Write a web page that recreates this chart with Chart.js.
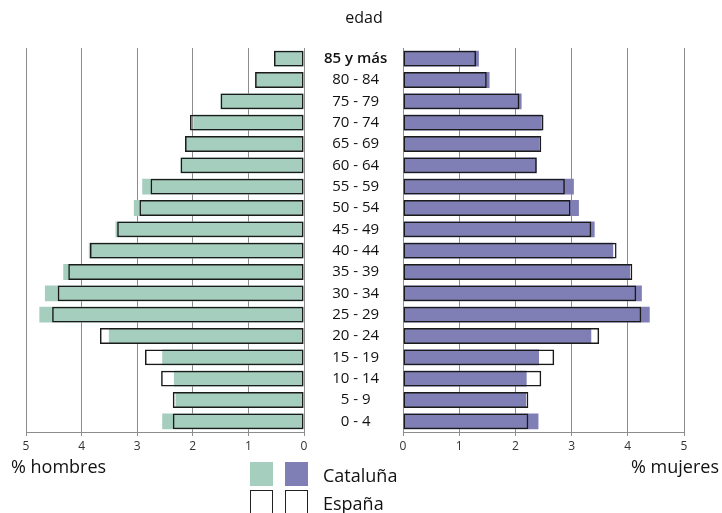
<!DOCTYPE html>
<html>
<head>
<meta charset="utf-8">
<script src="https://cdn.jsdelivr.net/npm/chart.js@4"></script>
<style>
  body { margin: 0; background: #fff; font-family: "Open Sans", sans-serif; color: #111; }
  #wrap { position: relative; width: 722px; height: 513px; overflow: hidden; }
  #menBox { position: absolute; left: 0; top: 0; width: 403px; height: 460px; }
  #womenBox { position: absolute; left: 393px; top: 0; width: 329px; height: 460px; }
  .txt { position: absolute; white-space: nowrap; }
  .sw { position: absolute; width: 23px; height: 24px; box-sizing: border-box; }
</style>
</head>
<body>
<div id="wrap">
  <div id="menBox"><canvas id="menChart"></canvas></div>
  <div id="womenBox"><canvas id="womenChart"></canvas></div>

  <div class="txt" style="left:0;width:728px;text-align:center;top:6px;font-size:16px;">edad</div>
  <div class="txt" style="left:11px;top:454px;font-size:18px;">% hombres</div>
  <div class="txt" style="right:3px;top:454px;font-size:18px;">% mujeres</div>

  <div class="sw" style="left:250px;top:462px;background:#a6cebf;"></div>
  <div class="sw" style="left:285px;top:462px;background:#7f7fb5;"></div>
  <div class="sw" style="left:250px;top:490px;border:1px solid #222;"></div>
  <div class="sw" style="left:285px;top:490px;border:1px solid #222;"></div>
  <div class="txt" style="left:323px;top:463px;font-size:18px;">Cataluña</div>
  <div class="txt" style="left:323px;top:491px;font-size:18px;">España</div>
</div>

<script>
// age groups, top to bottom
const ageGroups = ['85 y más', '80 - 84', '75 - 79', '70 - 74', '65 - 69', '60 - 64',
    '55 - 59', '50 - 54', '45 - 49', '40 - 44', '35 - 39', '30 - 34',
    '25 - 29', '20 - 24', '15 - 19', '10 - 14', '5 - 9', '0 - 4'];

// % of population
const menCataluna = [0.54, 0.88, 1.50, 1.99, 2.14, 2.22, 2.91, 3.06, 3.39,
    3.87, 4.33, 4.66, 4.76, 3.51, 2.55, 2.34, 2.31, 2.55];
const menEspana = [0.54, 0.88, 1.50, 2.05, 2.14, 2.22, 2.76, 2.96, 3.36,
    3.85, 4.24, 4.43, 4.53, 3.67, 2.86, 2.57, 2.36, 2.36];
const womenCataluna = [1.35, 1.54, 2.11, 2.47, 2.43, 2.38, 3.04, 3.13, 3.41,
    3.74, 4.04, 4.25, 4.39, 3.35, 2.42, 2.20, 2.19, 2.41];
const womenEspana = [1.30, 1.49, 2.07, 2.50, 2.46, 2.38, 2.88, 2.98, 3.35,
    3.80, 4.08, 4.15, 4.24, 3.49, 2.69, 2.46, 2.23, 2.23];

const xTicks = [0, 1, 2, 3, 4, 5];

const GREEN = '#a6cebf';
const PURPLE = '#7f7fb5';
const GRID = '#8c8c8c';

function makeDatasets(cat, esp, fill) {
    // España first so its outline is drawn on top
    return [{
        label: 'España',
        data: esp,
        backgroundColor: 'rgba(0,0,0,0)',
        borderColor: '#1a1a1a',
        borderWidth: 1.5,
        borderSkipped: false,
        grouped: false,
        categoryPercentage: 1,
        barPercentage: 0.74
    }, {
        label: 'Cataluña',
        data: cat,
        backgroundColor: fill,
        borderWidth: 0,
        grouped: false,
        categoryPercentage: 1,
        barPercentage: 0.74
    }];
}

function xScale(reverse) {
    return {
        type: 'linear',
        min: 0,
        max: 5,
        reverse: reverse,
        afterBuildTicks: (s) => { s.ticks = xTicks.map(v => ({ value: v })); },
        afterFit: (s) => { s.height = 28; },
        grid: { color: GRID, lineWidth: 1, tickLength: 4 },
        border: { display: true, color: GRID, width: 1 },
        ticks: {
            color: '#333',
            padding: 3,
            font: { family: 'Open Sans', size: 12 }
        }
    };
}

Chart.defaults.animation = false;
Chart.defaults.responsive = true;
Chart.defaults.maintainAspectRatio = false;

const menChart = new Chart(document.getElementById('menChart'), {
    type: 'bar',
    data: { labels: ageGroups, datasets: makeDatasets(menCataluna, menEspana, GREEN) },
    options: {
        indexAxis: 'y',
        layout: { padding: { left: 26, top: 48, right: 0, bottom: 0 } },
        plugins: { legend: { display: false }, tooltip: { enabled: false } },
        scales: {
            x: xScale(true),
            y: {
                position: 'right',
                afterFit: (s) => { s.width = 99; },
                grid: { display: false },
                border: { display: false },
                ticks: {
                    crossAlign: 'center',
                    padding: 12,
                    color: '#111',
                    font: (ctx) => ({
                        family: 'Open Sans',
                        size: 15,
                        weight: ctx.index === 0 ? '600' : 'normal'
                    })
                }
            }
        }
    }
});

const womenChart = new Chart(document.getElementById('womenChart'), {
    type: 'bar',
    data: { labels: ageGroups, datasets: makeDatasets(womenCataluna, womenEspana, PURPLE) },
    options: {
        indexAxis: 'y',
        layout: { padding: { left: 10, top: 48, right: 38, bottom: 0 } },
        plugins: { legend: { display: false }, tooltip: { enabled: false } },
        scales: {
            x: xScale(false),
            y: { display: false }
        }
    }
});
</script>
</body>
</html>
